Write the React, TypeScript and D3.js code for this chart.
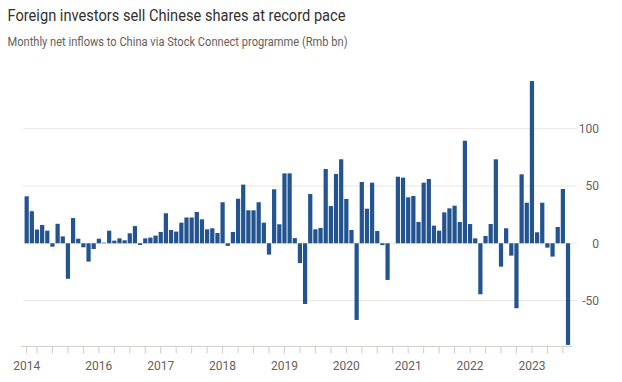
import React from "react";
import * as d3 from "d3";

const title = "Foreign investors sell Chinese shares at record pace";
const subtitle = "Monthly net inflows to China via Stock Connect programme (Rmb bn)";

// Monthly net inflows (Rmb bn), Nov 2014 – Aug 2023
const values2014 = [41, 28];
const values2015 = [12, 16, 11, -3, 17, 6, -31, 22, 4, -3.5, -16, -5];
const values2016 = [4, 0.5, 11, 2.3, 4.3, 2.6, 8.7, 15, -1.5, 4.3, 5, 6.7];
const values2017 = [9.9, 26.2, 11.6, 10.2, 18, 22.5, 22.5, 27.3, 20.9, 12.2, 13.1, 9];
const values2018 = [35.8, -2.3, 9.9, 38.9, 51.2, 28.8, 28.8, 35.8, 18, -9.9, 47.1, 16.6];
const values2019 = [61, 61, 4.5, -17.3, -53, 43, 12.2, 13.4, 64.8, 32.5, 60.5, 73.3];
const values2020 = [38.7, 11.6, -66.9, 53.5, 30.2, 52.9, 10.7, -1.6, -32, 0, 58.1, 57.3];
const values2021 = [40.1, 41.3, 18.6, 52.9, 56.1, 15.4, 11, 27, 30.5, 32.8, 18.6, 89.5];
const values2022 = [16.8, 4.3, -44.5, 6.4, 16.8, 73.3, -20.4, 13.1, -10.8, -56.7, 60.2, 35.4];
const values2023 = [141.6, 9.6, 35.4, -3.8, -11.6, 14.2, 47.4, -88.7];

const startYear = 2014;
const startMonth = 10; // November (0-based)

const yTicks = [-50, 0, 50, 100];
const xLabelYears = [2014, 2016, 2017, 2018, 2019, 2020, 2021, 2022, 2023];

const values = [
  ...values2014, ...values2015, ...values2016, ...values2017, ...values2018,
  ...values2019, ...values2020, ...values2021, ...values2022, ...values2023,
];

const data = values.map((v, i) => {
  const m = startMonth + i;
  const year = startYear + Math.floor(m / 12);
  const month = m % 12;
  return { key: `${year}-${month + 1}`, year, month, value: v, idx: i };
});

const W = 622;
const H = 382;
const FONT = "Roboto, 'Liberation Sans', sans-serif";

export default function App() {
  const x = d3
    .scaleBand<string>()
    .domain(data.map((d) => d.key))
    .range([24.1, 570.6])
    .paddingInner(0.18)
    .paddingOuter(0.09);
  const y = d3.scaleLinear().domain([-90, 100]).range([346.4, 128.7]);
  const bw = x.bandwidth();
  const cx = (k: string) => (x(k) as number) + bw / 2;

  const ticks = data.filter((d) => d.idx === 0 || d.month % 3 === 0);
  const labels = data.filter(
    (d) => (d.idx === 0 && xLabelYears.includes(d.year)) || (d.month === 0 && xLabelYears.includes(d.year))
  );
  const axisY = y(-90);

  return (
    <svg
      width={W}
      height={H}
      style={{ position: "absolute", left: 0, top: 0, background: "#fff" }}
      fontFamily={FONT}
    >
      <rect width={W} height={H} fill="#fff" />
      <text x={7.5} y={20.5} fontSize={16} fill="#33302e" textLength={338} lengthAdjust="spacingAndGlyphs">
        {title}
      </text>
      <text x={7.5} y={46} fontSize={12.7} fill="#66605c" textLength={340} lengthAdjust="spacingAndGlyphs">
        {subtitle}
      </text>

      {yTicks.map((t) => (
        <g key={t}>
          <line x1={23} x2={577} y1={y(t)} y2={y(t)} stroke="#e9e6e2" strokeWidth={1} />
          <text x={599} y={y(t)} dy="0.36em" textAnchor="end" fontSize={12} fill="#66605c">
            {t}
          </text>
        </g>
      ))}

      {data.map((d) => (
        <rect
          key={d.key}
          x={x(d.key)}
          width={bw}
          y={Math.min(y(d.value), y(0))}
          height={Math.abs(y(d.value) - y(0))}
          fill="#23548f"
        />
      ))}

      <line x1={21} x2={572} y1={axisY} y2={axisY} stroke="#d2ccc6" strokeWidth={1} />
      {ticks.map((d) => (
        <line key={d.key} x1={cx(d.key)} x2={cx(d.key)} y1={axisY} y2={axisY + 7} stroke="#d2ccc6" strokeWidth={1} />
      ))}
      {labels.map((d) => (
        <text key={d.key} x={cx(d.key)} y={369.5} textAnchor="middle" fontSize={12} fill="#66605c">
          {d.year}
        </text>
      ))}
    </svg>
  );
}
